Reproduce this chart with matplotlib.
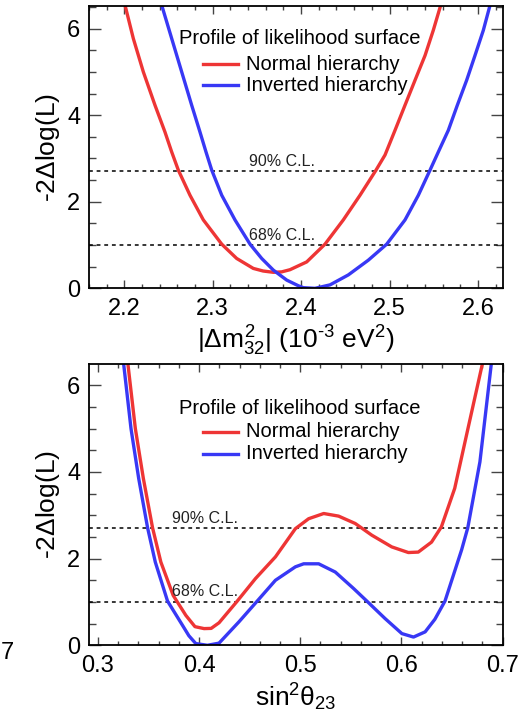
import numpy as np
import matplotlib
matplotlib.use('Agg')
import matplotlib.pyplot as plt
from matplotlib.ticker import MultipleLocator

plt.rcParams['font.family'] = ['Liberation Sans', 'DejaVu Sans']
plt.rcParams['mathtext.fontset'] = 'custom'
plt.rcParams['mathtext.rm'] = 'Liberation Sans'
plt.rcParams['mathtext.it'] = 'Liberation Sans'
plt.rcParams['mathtext.bf'] = 'Liberation Sans'

# |dm2_32| profile
dm_nh_x = [2.2008, 2.2102, 2.2215, 2.2347, 2.246, 2.2536, 2.2611, 2.2743, 2.2894,
           2.3102, 2.3271, 2.3459, 2.357, 2.3686, 2.378, 2.3874, 2.4063, 2.427,
           2.4477, 2.4666, 2.4847, 2.4949, 2.5062, 2.5175, 2.5289, 2.5402, 2.5495,
           2.5579]
dm_nh_y = [6.54, 5.77, 5.0, 4.23, 3.61, 3.15, 2.73, 2.15, 1.58,
           1.02, 0.69, 0.46, 0.40, 0.37, 0.38, 0.43, 0.61, 1.02,
           1.58, 2.15, 2.73, 3.08, 3.65, 4.23, 4.81, 5.38, 5.96,
           6.54]
dm_ih_x = [2.2423, 2.2536, 2.2649, 2.2762, 2.2856, 2.2924, 2.2989, 2.3102, 2.3252,
           2.3422, 2.3554, 2.3686, 2.3837, 2.3968, 2.4025, 2.4157, 2.4327, 2.4534,
           2.476, 2.4968, 2.5175, 2.5326, 2.5458, 2.5552, 2.5665, 2.5767, 2.5873,
           2.5967, 2.6061, 2.6137]
dm_ih_y = [6.54, 5.77, 5.0, 4.23, 3.61, 3.15, 2.73, 2.15, 1.58,
           1.02, 0.69, 0.42, 0.19, 0.06, 0.015, 0.0, 0.08, 0.31,
           0.65, 1.02, 1.58, 2.15, 2.73, 3.15, 3.65, 4.23, 4.81,
           5.38, 5.96, 6.54]

# sin^2 theta_23 profile
th_nh_x = [0.3295, 0.3371, 0.345, 0.3541, 0.3623, 0.3745, 0.387, 0.396, 0.405,
           0.412, 0.4198, 0.4378, 0.4558, 0.4755, 0.4952, 0.5083, 0.5232, 0.5379,
           0.5543, 0.5707, 0.5904, 0.6068, 0.6166, 0.6297, 0.6394, 0.6526, 0.6657,
           0.6804]
th_nh_y = [6.54, 5.0, 3.85, 2.71, 1.92, 1.15, 0.69, 0.43, 0.385,
           0.39, 0.52, 1.02, 1.54, 2.04, 2.69, 2.92, 3.04, 2.98,
           2.81, 2.54, 2.27, 2.14, 2.15, 2.38, 2.73, 3.62, 5.0,
           6.54]
th_ih_x = [0.3253, 0.3328, 0.3404, 0.3492, 0.3568, 0.3689, 0.3837, 0.39, 0.3968,
           0.4083, 0.4198, 0.4394, 0.4575, 0.4755, 0.4952, 0.5034, 0.5182, 0.5346,
           0.5527, 0.5658, 0.5839, 0.6004, 0.6119, 0.6234, 0.633, 0.643, 0.6594,
           0.6655, 0.6775, 0.689]
th_ih_y = [6.54, 5.0, 3.85, 2.71, 1.92, 1.02, 0.46, 0.22, 0.04,
           0.0, 0.05, 0.54, 1.02, 1.5, 1.81, 1.88, 1.88, 1.69,
           1.31, 1.02, 0.615, 0.27, 0.19, 0.31, 0.6, 1.02, 2.2,
           2.71, 4.23, 6.54]

cl_levels = [2.71, 1.0]
cl_names = ['90% C.L.', '68% C.L.']
cl_text_y = [2.93, 1.23]

red = '#ee3535'
blue = '#3838f5'

fig = plt.figure(figsize=(5.32, 7.21), dpi=100)
ax1 = fig.add_axes([0.1667, 0.6001, 0.7782, 0.3915])
ax2 = fig.add_axes([0.1667, 0.1050, 0.7782, 0.3902])


def style(ax, xmaj, xmin):
    ax.xaxis.set_major_locator(MultipleLocator(xmaj))
    ax.xaxis.set_minor_locator(MultipleLocator(xmin))
    ax.yaxis.set_major_locator(MultipleLocator(2))
    ax.yaxis.set_minor_locator(MultipleLocator(0.5))
    ax.tick_params(axis='both', which='both', direction='in', top=True, right=True,
                   width=1.0, color='#444444', labelsize=17)
    ax.tick_params(axis='y', which='major', length=8.6, pad=6)
    ax.tick_params(axis='y', which='minor', length=5)
    ax.tick_params(axis='x', which='major', length=5.8, pad=7)
    ax.tick_params(axis='x', which='minor', length=3.2)
    for s in ax.spines.values():
        s.set_linewidth(1.3)
    ax.set_ylabel('-2$\\Delta$log(L)', fontsize=19, labelpad=4)


def legend(ax, ty, ny, iy):
    ax.text(0.510, ty, 'Profile of likelihood surface', transform=ax.transAxes,
            ha='center', va='center', fontsize=14.5)
    for y, c, lab in [(ny, red, 'Normal hierarchy'), (iy, blue, 'Inverted hierarchy')]:
        ax.plot([0.2754, 0.360], [y, y], color=c, lw=2.4, transform=ax.transAxes)
        ax.text(0.380, y, lab, transform=ax.transAxes, ha='left', va='center',
                fontsize=14.5)


# top panel
for lev in cl_levels:
    ax1.axhline(lev, color='black', lw=1.1, ls=(0, (2.5, 2.5)))
for name, ty in zip(cl_names, cl_text_y):
    ax1.text(2.341, ty, name, fontsize=11.5, color='#222222', va='center')
ax1.plot(dm_nh_x, dm_nh_y, color=red, lw=2.4, solid_joinstyle='round')
ax1.plot(dm_ih_x, dm_ih_y, color=blue, lw=2.4, solid_joinstyle='round')
ax1.set_xlim(2.1597, 2.628)
ax1.set_ylim(0, 6.52)
style(ax1, 0.1, 0.02)
ax1.set_xlabel('$|\\Delta m^{2}_{32}|$ (10$^{\\text{-}3}$ eV$^{2}$)', fontsize=19, labelpad=3)
legend(ax1, 0.8856, 0.7935, 0.7202)

# bottom panel
for lev in cl_levels:
    ax2.axhline(lev, color='black', lw=1.1, ls=(0, (2.5, 2.5)))
for name, ty in zip(cl_names, cl_text_y):
    ax2.text(0.3738, ty, name, fontsize=11.5, color='#222222', va='center')
ax2.plot(th_nh_x, th_nh_y, color=red, lw=2.4, solid_joinstyle='round')
ax2.plot(th_ih_x, th_ih_y, color=blue, lw=2.4, solid_joinstyle='round')
ax2.set_xlim(0.291, 0.700)
ax2.set_ylim(0, 6.49)
style(ax2, 0.1, 0.02)
ax2.set_xlabel('sin$^{2}\\theta_{23}$', fontsize=19, labelpad=3)
legend(ax2, 0.841, 0.7583, 0.681)

# leftover glyph from neighbouring panel at the crop edge
fig.text(0.002, 0.094, '7', fontsize=17, va='center', ha='left')

fig.savefig('out.png', dpi=100)
